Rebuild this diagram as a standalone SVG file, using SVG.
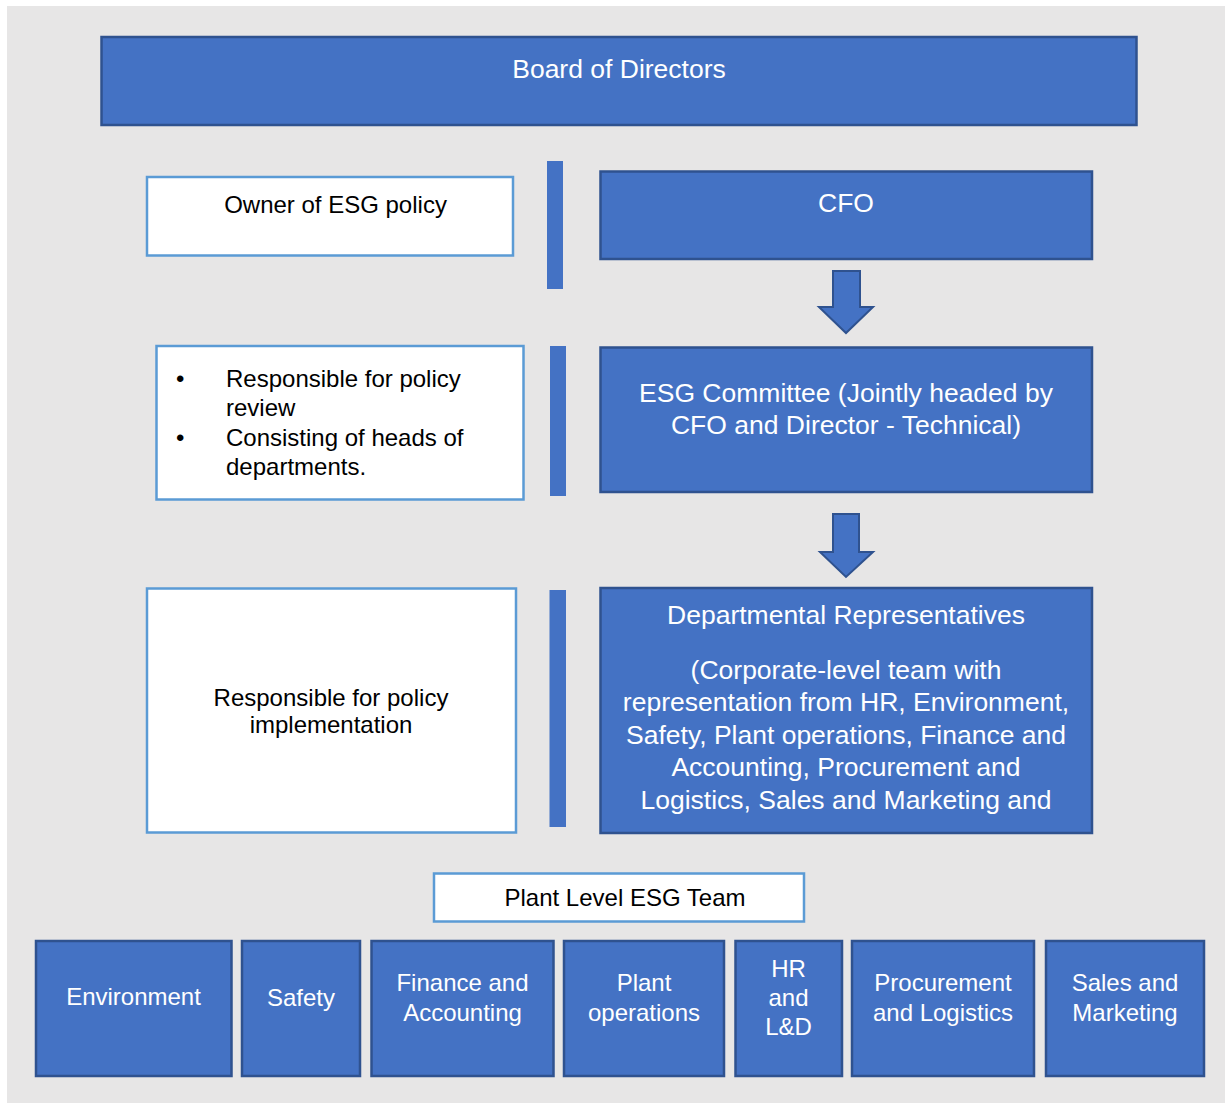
<svg xmlns="http://www.w3.org/2000/svg" width="1225" height="1103" viewBox="0 0 1225 1103">
<style>
.bg{fill:#e7e6e6}
.blue{fill:#4472c4;stroke:#2f528f;stroke-width:2.5}
.white{fill:#ffffff;stroke:#5b9bd5;stroke-width:2.5}
.bar{fill:#4472c4}
.arrow{fill:#4472c4;stroke:#2f528f;stroke-width:2;stroke-linejoin:miter}
text{font-family:"Liberation Sans",Arial,sans-serif}
.wt{fill:#ffffff;font-size:26.5px;text-anchor:middle}
.wb{fill:#ffffff;font-size:24px;text-anchor:middle}
.bk{fill:#000000;font-size:24px}
.mid{text-anchor:middle}
</style>
<defs>
<clipPath id="clipDept"><rect x="600" y="588" width="492" height="244"/></clipPath>
</defs>
<rect x="0" y="0" width="1225" height="1103" fill="#ffffff"/>
<rect class="bg" x="7" y="6" width="1218" height="1097"/>

<g id="board">
<rect class="blue" x="101.5" y="37" width="1035" height="88"/>
<text class="wt" x="619" y="78">Board of Directors</text>
</g>

<g id="owner">
<rect class="white" x="147" y="177" width="366" height="78.5"/>
<text class="bk mid" x="335.5" y="213">Owner of ESG policy</text>
</g>

<g id="cfo">
<rect class="blue" x="600.5" y="171.5" width="491.5" height="87.5"/>
<text class="wt" x="846" y="212">CFO</text>
</g>

<g id="review">
<rect class="white" x="156.5" y="346" width="367" height="153.5"/>
<text class="bk" x="176" y="387">•</text>
<text class="bk" x="226" y="387">Responsible for policy</text>
<text class="bk" x="226" y="416">review</text>
<text class="bk" x="176" y="446">•</text>
<text class="bk" x="226" y="446">Consisting of heads of</text>
<text class="bk" x="226" y="475">departments.</text>
</g>

<g id="esg-committee">
<rect class="blue" x="600.5" y="347.5" width="491.5" height="144.5"/>
<text class="wt" x="846" y="402">ESG Committee (Jointly headed by</text>
<text class="wt" x="846" y="434">CFO and Director - Technical)</text>
</g>

<g id="implementation">
<rect class="white" x="147" y="588.5" width="369" height="244"/>
<text class="bk mid" x="331" y="706">Responsible for policy</text>
<text class="bk mid" x="331" y="733">implementation</text>
</g>

<g id="departmental">
<rect class="blue" x="600.5" y="588" width="491.5" height="245"/>
<g clip-path="url(#clipDept)">
<text class="wt" x="846" y="623.5">Departmental Representatives</text>
<text class="wt" x="846" y="678.5">(Corporate-level team with</text>
<text class="wt" x="846" y="711">representation from HR, Environment,</text>
<text class="wt" x="846" y="743.5">Safety, Plant operations, Finance and</text>
<text class="wt" x="846" y="776">Accounting, Procurement and</text>
<text class="wt" x="846" y="808.5">Logistics, Sales and Marketing and</text>
</g>
</g>

<g id="separators">
<rect class="bar" x="547" y="161" width="16" height="128"/>
<rect class="bar" x="550" y="346" width="16" height="150"/>
<rect class="bar" x="549.5" y="590" width="16.5" height="237"/>
</g>

<g id="connectors">
<polygon class="arrow" points="833,271 860,271 860,307 873,307 846,333 819,307 833,307"/>
<polygon class="arrow" points="833,514 859,514 859,552 873,552 846,577 820,552 833,552"/>
</g>

<g id="plant-level">
<rect class="white" x="434" y="873.5" width="370" height="48"/>
<text class="bk mid" x="625" y="906">Plant Level ESG Team</text>
</g>

<g id="environment">
<rect class="blue" x="36" y="941" width="195.5" height="135"/>
<text class="wb" x="133.5" y="1005">Environment</text>
</g>

<g id="safety">
<rect class="blue" x="242" y="941" width="118" height="135"/>
<text class="wb" x="301" y="1006">Safety</text>
</g>

<g id="finance">
<rect class="blue" x="371.5" y="941" width="182" height="135"/>
<text class="wb" x="462.5" y="991">Finance and</text>
<text class="wb" x="462.5" y="1020.5">Accounting</text>
</g>

<g id="plant-operations">
<rect class="blue" x="564" y="941" width="160" height="135"/>
<text class="wb" x="644" y="991">Plant</text>
<text class="wb" x="644" y="1020.5">operations</text>
</g>

<g id="hr">
<rect class="blue" x="735.5" y="941" width="106.5" height="135"/>
<text class="wb" x="788.5" y="977">HR</text>
<text class="wb" x="788.5" y="1006">and</text>
<text class="wb" x="788.5" y="1035">L&amp;D</text>
</g>

<g id="procurement">
<rect class="blue" x="852" y="941" width="182" height="135"/>
<text class="wb" x="943" y="991">Procurement</text>
<text class="wb" x="943" y="1021">and Logistics</text>
</g>

<g id="sales">
<rect class="blue" x="1046" y="941" width="158" height="135"/>
<text class="wb" x="1125" y="991">Sales and</text>
<text class="wb" x="1125" y="1021">Marketing</text>
</g>
</svg>
